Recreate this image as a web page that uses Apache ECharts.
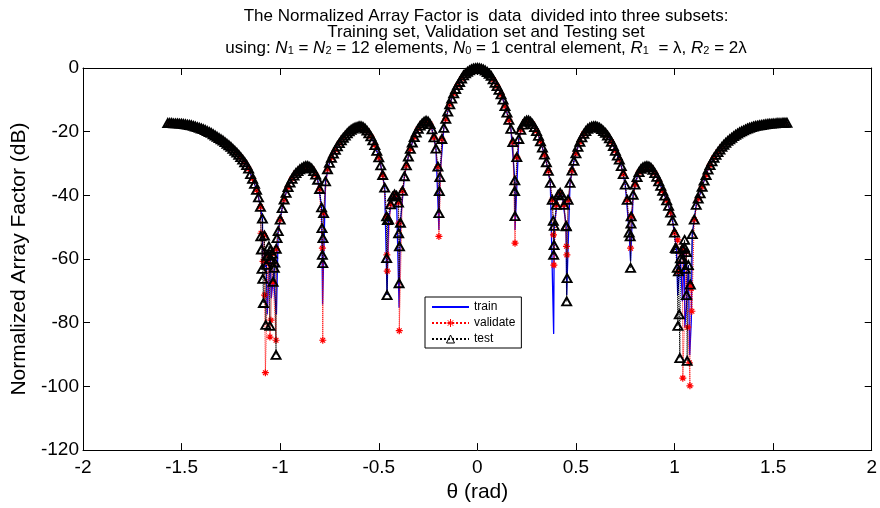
<!DOCTYPE html>
<html>
<head>
<meta charset="utf-8">
<script src="https://cdn.jsdelivr.net/npm/echarts@6/dist/echarts.min.js"></script>
<style>
html,body{margin:0;padding:0;background:#fff;overflow:hidden;}
#chart{width:880px;height:508px;display:block;}
</style>
</head>
<body>
<div id="chart"></div>
<script>
// ---- axis settings ----
const xRange = [-2, 2];
const xStep = 0.5;
const yRange = [-120, 0];
const yStep = 20;
const seriesNames = ['train', 'validate', 'test'];

// ---- pattern: theta (rad) and normalized AF (dB) ----
const thetaRad = [
  -1.57,-1.56,-1.55,-1.54,-1.53,-1.52,-1.51,
  -1.50,-1.49,-1.48,-1.47,-1.46,-1.45,-1.44,-1.43,-1.42,-1.41,
  -1.40,-1.39,-1.38,-1.37,-1.36,-1.35,-1.34,-1.33,-1.32,-1.31,
  -1.30,-1.29,-1.28,-1.27,-1.26,-1.25,-1.24,-1.23,-1.22,-1.21,
  -1.20,-1.19,-1.18,-1.17,-1.16,-1.15,-1.14,-1.13,-1.12,-1.11,
  -1.10,-1.09,-1.08,-1.07,-1.06,-1.05,-1.04,-1.03,-1.02,-1.01,
  -1.00,-0.99,-0.98,-0.97,-0.96,-0.95,-0.94,-0.93,-0.92,-0.91,
  -0.90,-0.89,-0.88,-0.87,-0.86,-0.85,-0.84,-0.83,-0.82,-0.81,
  -0.80,-0.79,-0.78,-0.77,-0.76,-0.75,-0.74,-0.73,-0.72,-0.71,
  -0.70,-0.69,-0.68,-0.67,-0.66,-0.65,-0.64,-0.63,-0.62,-0.61,
  -0.60,-0.59,-0.58,-0.57,-0.56,-0.55,-0.54,-0.53,-0.52,-0.51,
  -0.50,-0.49,-0.48,-0.47,-0.46,-0.45,-0.44,-0.43,-0.42,-0.41,
  -0.40,-0.39,-0.38,-0.37,-0.36,-0.35,-0.34,-0.33,-0.32,-0.31,
  -0.30,-0.29,-0.28,-0.27,-0.26,-0.25,-0.24,-0.23,-0.22,-0.21,
  -0.20,-0.19,-0.18,-0.17,-0.16,-0.15,-0.14,-0.13,-0.12,-0.11,
  -0.10,-0.09,-0.08,-0.07,-0.06,-0.05,-0.04,-0.03,-0.02,-0.01,
  0.00,0.01,0.02,0.03,0.04,0.05,0.06,0.07,0.08,0.09,
  0.10,0.11,0.12,0.13,0.14,0.15,0.16,0.17,0.18,0.19,
  0.20,0.21,0.22,0.23,0.24,0.25,0.26,0.27,0.28,0.29,
  0.30,0.31,0.32,0.33,0.34,0.35,0.36,0.37,0.38,0.39,
  0.40,0.41,0.42,0.43,0.44,0.45,0.46,0.47,0.48,0.49,
  0.50,0.51,0.52,0.53,0.54,0.55,0.56,0.57,0.58,0.59,
  0.60,0.61,0.62,0.63,0.64,0.65,0.66,0.67,0.68,0.69,
  0.70,0.71,0.72,0.73,0.74,0.75,0.76,0.77,0.78,0.79,
  0.80,0.81,0.82,0.83,0.84,0.85,0.86,0.87,0.88,0.89,
  0.90,0.91,0.92,0.93,0.94,0.95,0.96,0.97,0.98,0.99,
  1.00,1.01,1.02,1.03,1.04,1.05,1.06,1.07,1.08,1.09,
  1.10,1.11,1.12,1.13,1.14,1.15,1.16,1.17,1.18,1.19,
  1.20,1.21,1.22,1.23,1.24,1.25,1.26,1.27,1.28,1.29,
  1.30,1.31,1.32,1.33,1.34,1.35,1.36,1.37,1.38,1.39,
  1.40,1.41,1.42,1.43,1.44,1.45,1.46,1.47,1.48,1.49,
  1.50,1.51,1.52,1.53,1.54,1.55,1.56,1.57
];
const patternDb = [
  -17.3,-17.3,-17.3,-17.4,-17.4,-17.4,-17.5,
  -17.5,-17.6,-17.7,-17.8,-17.9,-18.0,-18.2,-18.4,-18.6,-18.8,
  -19.0,-19.2,-19.5,-19.8,-20.1,-20.4,-20.8,-21.2,-21.6,-22.0,
  -22.4,-22.8,-23.3,-23.8,-24.3,-24.8,-25.4,-26.0,-26.6,-27.3,
  -28.0,-28.8,-29.6,-30.5,-31.6,-33.3,-34.8,-36.4,-38.3,-40.6,
  -43.6,-47.3,-52.6,-61.8,-58.8,-57.3,-58.3,-62.8,-56.8,-51.2,
  -47.6,-44.0,-41.3,-39.2,-37.4,-36.0,-34.8,-33.8,-33.0,-32.4,
  -31.8,-31.4,-31.0,-30.8,-30.8,-31.1,-31.6,-32.4,-33.5,-35.1,
  -38.0,-43.8,-45.6,-35.6,-31.8,-29.8,-28.2,-26.9,-25.7,-24.6,
  -23.6,-22.7,-21.9,-21.2,-20.5,-19.9,-19.4,-19.0,-18.7,-18.5,
  -18.3,-18.3,-18.5,-19.0,-19.7,-20.5,-21.5,-22.7,-24.2,-26.0,
  -28.1,-30.6,-33.6,-37.6,-46.6,-47.6,-42.8,-40.4,-39.7,-40.1,
  -42.3,-48.6,-38.6,-34.0,-30.6,-27.8,-25.4,-23.4,-21.7,-20.3,
  -19.1,-18.1,-17.4,-16.9,-16.6,-16.8,-17.6,-19.3,-21.8,-25.3,
  -31.0,-34.3,-22.3,-18.8,-16.0,-13.7,-11.4,-9.6,-8.0,-6.6,
  -5.4,-4.4,-3.3,-2.3,-1.7,-1.2,-0.75,-0.42,-0.18,-0.05,
  0.0,-0.05,-0.2,-0.45,-0.8,-1.25,-1.8,-2.5,-3.6,-4.7,
  -5.7,-6.9,-8.3,-9.9,-12.0,-14.0,-16.3,-19.1,-23.3,-35.3,
  -28.0,-22.3,-19.4,-17.8,-16.9,-16.5,-16.5,-16.9,-17.6,-18.6,
  -19.8,-21.3,-23.0,-25.0,-27.2,-29.6,-32.3,-36.1,-41.4,-49.6,
  -43.0,-39.8,-39.2,-40.0,-43.0,-49.6,-41.4,-36.1,-32.2,-29.2,
  -26.8,-24.8,-23.2,-21.8,-20.7,-19.8,-19.1,-18.7,-18.4,-18.3,
  -18.3,-18.5,-18.8,-19.2,-19.8,-20.4,-21.2,-22.1,-23.2,-24.5,
  -26.0,-27.5,-28.8,-30.8,-33.3,-36.6,-41.4,-51.7,-46.6,-39.8,
  -36.6,-34.3,-32.7,-31.7,-31.2,-30.9,-30.8,-30.9,-31.3,-32.0,
  -33.0,-34.2,-35.6,-37.0,-38.6,-40.1,-41.6,-43.3,-45.4,-47.9,
  -51.7,-56.8,-63.9,-59.8,-56.8,-56.3,-57.8,-61.9,-68.0,-52.2,
  -47.6,-43.0,-41.0,-39.4,-37.3,-35.4,-33.6,-31.9,-30.5,-29.3,
  -28.2,-27.3,-26.4,-25.6,-24.8,-24.1,-23.5,-22.9,-22.4,-21.9,
  -21.4,-21.0,-20.6,-20.2,-19.9,-19.6,-19.3,-19.0,-18.8,-18.6,
  -18.4,-18.2,-18.1,-18.0,-17.9,-17.8,-17.7,-17.6,-17.5,-17.5,
  -17.4,-17.4,-17.3,-17.3,-17.3,-17.2,-17.2,-17.2
];

// ---- deep samples near the nulls, per subset [theta, dB] ----
const trainNullPoints = [
  [-1.088,-63],[-1.066,-77.4],[-1.058,-67.2],[-1.045,-72.3],[-1.030,-69.2],[-1.019,-77.4],
  [-0.785,-74.3],[-0.458,-71.3],[-0.397,-75.3],[-0.195,-50.9],
  [0.191,-50.9],[0.387,-83.5],[0.453,-71.3],[0.777,-60.7],
  [1.016,-71.3],[1.040,-73.3],[1.052,-81.4],[1.060,-75.3],[1.077,-90.2],[1.085,-79.4]
];
const validateNullPoints = [
  [-1.097,-51.9],[-1.087,-60.7],[-1.079,-71.3],[-1.075,-95.7],[-1.062,-61.1],[-1.052,-84.5],
  [-1.047,-79.2],[-1.035,-67.2],[-1.021,-85.5],
  [-0.786,-56.6],[-0.784,-85.5],
  [-0.459,-58.7],[-0.457,-63.8],
  [-0.398,-48.7],[-0.396,-82.5],
  [-0.195,-52.9],[0.191,-55],
  [0.386,-52.4],[0.388,-61.9],
  [0.452,-56],[0.454,-58.7],
  [0.777,-56.6],
  [1.016,-54],[1.042,-97.4],[1.067,-81.4],[1.075,-92.6],[1.078,-99.8],[1.085,-69.2],[1.088,-76.4]
];
const testNullPoints = [
  [-1.098,-52.9],[-1.095,-57],[-1.092,-63.1],[-1.088,-66.2],[-1.085,-73.8],[-1.073,-80.7],
  [-1.066,-59],[-1.057,-56],[-1.052,-81],[-1.047,-60],[-1.036,-67.2],[-1.027,-61.1],
  [-1.021,-90.1],[-1.016,-53.4],
  [-0.788,-50.3],[-0.786,-58.7],[-0.784,-61.3],[-0.783,-53.4],
  [-0.460,-59.7],[-0.458,-71.3],[-0.456,-47.8],
  [-0.399,-51.9],[-0.397,-67.6],[-0.395,-56],
  [-0.195,-45.6],[-0.193,-38.7],
  [0.189,-38.7],[0.191,-46.5],
  [0.385,-48],[0.387,-58.7],[0.389,-55.6],
  [0.451,-49.7],[0.453,-73.3],[0.455,-66],
  [0.775,-52.9],[0.777,-62.8],[0.779,-48.9],
  [1.004,-56.6],[1.014,-62.8],[1.017,-81],[1.024,-77.4],[1.027,-91.1],[1.042,-60],
  [1.051,-54],[1.054,-63.1],[1.061,-71.3],[1.064,-92]
];

// build a subset: grid samples of one parity (or all) plus its null samples
function subset(parity, extra) {
  const pts = [];
  for (let i = 0; i < thetaRad.length; i++) {
    if (parity === null || i % 2 === parity) pts.push([thetaRad[i], patternDb[i]]);
  }
  extra.forEach(p => pts.push(p));
  pts.sort((a, b) => a[0] - b[0]);
  return pts;
}

const FONT = "'Liberation Sans', Arial, Helvetica, sans-serif";
const starPath = 'path://M5,0L5,10M0,5L10,5M1.6,1.6L8.4,8.4M8.4,1.6L1.6,8.4';

const chart = echarts.init(document.getElementById('chart'), null, {renderer: 'canvas'});

const axisCommon = {
  type: 'value',
  axisLine: {show: true, onZero: false, lineStyle: {color: '#000', width: 1}},
  axisTick: {show: true, inside: true, length: 7, lineStyle: {color: '#000', width: 1}},
  splitLine: {show: false}
};

const option = {
  animation: false,
  backgroundColor: '#fff',
  title: {
    text: 'The Normalized Array Factor is  data  divided into three subsets:\nTraining set, Validation set and Testing set\nusing: {i|N}{s|1} = {i|N}{s|2} = 12 elements, {i|N}{s|0} = 1 central element, {i|R}{s|1}  = λ, {i|R}{s|2} = 2λ',
    left: 481,
    top: 3,
    textAlign: 'center',
    textStyle: {
      fontFamily: FONT, fontSize: 17, fontWeight: 'normal', color: '#000', lineHeight: 16,
      rich: {
        i: {fontFamily: FONT, fontSize: 17, fontStyle: 'italic', color: '#000', lineHeight: 16},
        s: {fontFamily: FONT, fontSize: 11, color: '#000', lineHeight: 16, verticalAlign: 'bottom'}
      }
    }
  },
  legend: {
    data: [
      {name: 'train', itemStyle: {opacity: 0}},
      {name: 'validate', itemStyle: {borderWidth: 1}},
      {name: 'test', itemStyle: {borderWidth: 1}}
    ],
    orient: 'vertical',
    left: 425,
    top: 297,
    itemWidth: 37,
    itemHeight: 10,
    itemGap: 4,
    padding: [4, 6, 3, 6],
    borderColor: '#000',
    borderWidth: 1,
    backgroundColor: '#fff',
    textStyle: {fontFamily: FONT, fontSize: 12, color: '#000'}
  },
  grid: {left: 83, right: 2, top: 68, bottom: 54, containLabel: false},
  xAxis: [
    Object.assign({}, axisCommon, {
      position: 'bottom', min: xRange[0], max: xRange[1], interval: xStep,
      name: 'θ (rad)', nameLocation: 'middle', nameGap: 31,
      nameTextStyle: {fontFamily: FONT, fontSize: 21, color: '#000'},
      axisLabel: {show: true, margin: 8, fontFamily: FONT, fontSize: 19, color: '#000'}
    }),
    Object.assign({}, axisCommon, {
      position: 'top', min: xRange[0], max: xRange[1], interval: xStep,
      axisLabel: {show: false}
    })
  ],
  yAxis: [
    Object.assign({}, axisCommon, {
      position: 'left', min: yRange[0], max: yRange[1], interval: yStep,
      name: 'Normalized Array Factor (dB)', nameLocation: 'middle', nameGap: 49,
      nameTextStyle: {fontFamily: FONT, fontSize: 21, color: '#000'},
      axisLabel: {show: true, margin: 4, fontFamily: FONT, fontSize: 19, color: '#000'}
    }),
    Object.assign({}, axisCommon, {
      position: 'right', min: yRange[0], max: yRange[1], interval: yStep,
      axisLabel: {show: false}
    })
  ],
  series: [
    {
      name: 'train', type: 'line', xAxisIndex: 0, yAxisIndex: 0,
      data: subset(0, trainNullPoints),
      symbol: 'none', showSymbol: false,
      lineStyle: {color: '#0000ff', width: 1.3},
      itemStyle: {color: '#0000ff'},
      z: 2
    },
    {
      name: 'validate', type: 'line', xAxisIndex: 0, yAxisIndex: 0,
      data: subset(1, validateNullPoints),
      symbol: starPath, symbolSize: 7, showAllSymbol: true,
      lineStyle: {color: '#ff0000', width: 1, type: 'dotted'},
      itemStyle: {color: '#ff0000', borderColor: '#ff0000', borderWidth: 1.2},
      z: 3
    },
    {
      name: 'test', type: 'line', xAxisIndex: 0, yAxisIndex: 0,
      data: subset(null, testNullPoints),
      symbol: 'triangle', symbolSize: [9, 8], showAllSymbol: true,
      lineStyle: {color: '#000', width: 1, type: 'dotted'},
      itemStyle: {color: 'rgba(0,0,0,0)', borderColor: '#000', borderWidth: 1.9},
      z: 4
    }
  ]
};
chart.setOption(option);
</script>
</body>
</html>
